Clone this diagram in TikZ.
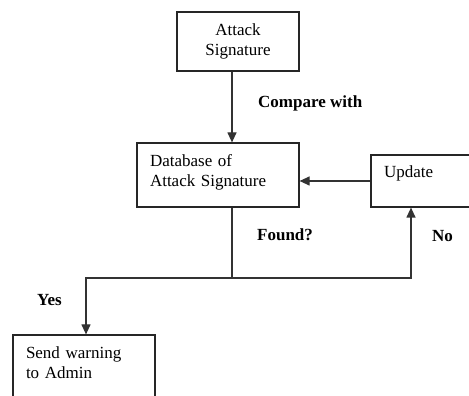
\documentclass[tikz,border=0pt]{standalone}
\usepackage{fontspec}
\setmainfont{Liberation Serif}
\usetikzlibrary{arrows.meta}

\begin{document}
\begin{tikzpicture}[
    x=1pt, y=1pt,
    every node/.style={inner sep=0pt, font=\fontsize{17}{20}\selectfont},
    BlockShape/.style={rectangle, draw=black!85, line width=1.2pt},
    TextBlock/.style={BlockShape, align=left},
    LabelText/.style={anchor=west, font=\fontsize{17}{20}\selectfont\bfseries},
    flow/.style={draw=black!80, line width=1.2pt, -{Triangle[length=10pt,width=9pt]}}
]
\useasboundingbox (0,0) rectangle (469,396);
\node (sig) [BlockShape, minimum width=122, minimum height=59, align=center]
    at (238,354.5) {Attack\\Signature};
\node (db) [TextBlock, minimum width=162, minimum height=64, text width=136,
    text depth=28pt] at (218,221) {Database of\\Attack Signature};
\node (upd) [TextBlock, minimum width=120, minimum height=52, text width=94,
    text depth=18pt] at (431,215) {Update};
\node (warn) [TextBlock, minimum width=142, minimum height=76, text width=116,
    text depth=40pt] at (84,23) {Send warning\\to Admin};
\coordinate (split) at (232,118);

\node (cmp) [LabelText] at (258,293) {Compare with};
\node (found) [LabelText] at (257,161) {Found?};
\node (no) [LabelText] at (432,160) {No};
\node (yes) [LabelText] at (37,96) {Yes};

\draw [flow] (split |- sig.south) -- (split |- db.north);
\draw [flow] (upd.west) -- (upd.west -| db.east);
\draw [draw=black!80, line width=1.2pt] (split |- db.south) -- (split);
\draw [flow] (split) -| (warn.north -| 86,0);
\draw [flow] (split) -| (upd.south -| 411,0);
\end{tikzpicture}
\end{document}
